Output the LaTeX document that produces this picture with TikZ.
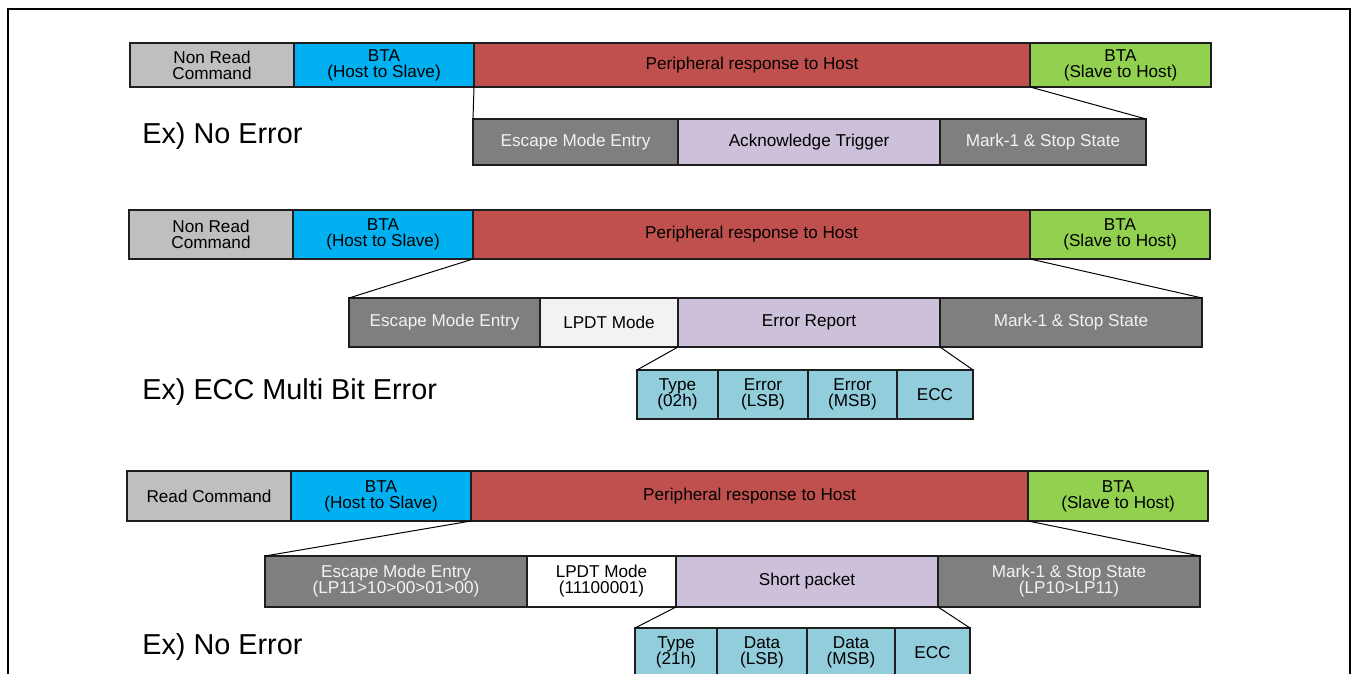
\documentclass[tikz,border=0pt]{standalone}
\usepackage{fontspec}
\setmainfont{Liberation Sans}
\usepackage{tikz}
\usetikzlibrary{positioning}
\definecolor{cmdgray}{HTML}{BFBFBF}
\definecolor{btacyan}{HTML}{00B0F0}
\definecolor{respred}{HTML}{C0504D}
\definecolor{btagreen}{HTML}{92D050}
\definecolor{stategray}{HTML}{7F7F7F}
\definecolor{lavender}{HTML}{CCC0DA}
\definecolor{lpdtgray}{HTML}{F2F2F2}
\definecolor{pktblue}{HTML}{92CDDC}
\definecolor{edge}{HTML}{1E1E1E}
\tikzset{
  seg/.style={draw=edge, line width=0.85pt, anchor=north west, inner sep=0pt,
    outer sep=0pt, align=center, text=black, font=\fontsize{12.2}{11.4}\selectfont},
  cmdseg/.style={seg, fill=cmdgray},
  htsseg/.style={seg, fill=btacyan},
  respseg/.style={seg, fill=respred},
  sthseg/.style={seg, fill=btagreen},
  stateseg/.style={seg, fill=stategray, text=lpdtgray},
  bodyseg/.style={seg, fill=lavender},
  lpdtseg/.style={seg, fill=lpdtgray},
  plainseg/.style={seg, fill=white},
  pktseg/.style={seg, fill=pktblue},
  zoomline/.style={draw=black, line width=0.7pt},
  exlabel/.style={anchor=west, inner sep=0pt, font=\fontsize{20.5}{24}\selectfont}
}

\begin{document}
\begin{tikzpicture}[x=0.025cm,y=-0.025cm]
  \useasboundingbox (0,0) rectangle (1357,674);
  \clip (0,0) rectangle (1357,674);
  \draw[line width=1.4pt] (8,9) rectangle (1350,700);

  % no error, non read command
  \foreach \n/\x/\w/\s/\t in {cmdA/130/164/cmdseg/{Non Read\\Command},
      htsA/294/180/htsseg/{BTA\\(Host to Slave)},
      respA/474/556/respseg/{Peripheral response to Host},
      sthA/1030/181/sthseg/{BTA\\(Slave to Host)}}
    \node[\s, minimum width=\w*0.25mm, minimum height=44*0.25mm] (\n) at (\x,43) {\t};
  \foreach \n/\x/\w/\s/\t in {escA/473/205/stateseg/{Escape Mode Entry},
      ackA/678/262/bodyseg/{Acknowledge Trigger},
      markA/940/206/stateseg/{Mark-1 \& Stop State}}
    \node[\s, minimum width=\w*0.25mm, minimum height=46*0.25mm] (\n) at (\x,119) {\t};
  \draw[zoomline] (respA.south west) -- (escA.north west);
  \draw[zoomline] (respA.south east) -- (markA.north east);
  \node[exlabel] (exA) at (142,136) {Ex) No Error};

  % ecc multi bit error
  \foreach \n/\x/\w/\s/\t in {cmdB/129/164/cmdseg/{Non Read\\Command},
      htsB/293/180/htsseg/{BTA\\(Host to Slave)},
      respB/473/557/respseg/{Peripheral response to Host},
      sthB/1030/180/sthseg/{BTA\\(Slave to Host)}}
    \node[\s, minimum width=\w*0.25mm, minimum height=49*0.25mm] (\n) at (\x,210) {\t};
  \foreach \n/\x/\w/\s/\t in {escB/349/191/stateseg/{Escape Mode Entry},
      lpdtB/540/138/lpdtseg/{LPDT Mode},
      errB/678/262/bodyseg/{Error Report},
      markB/940/262/stateseg/{Mark-1 \& Stop State}}
    \node[\s, minimum width=\w*0.25mm, minimum height=49*0.25mm] (\n) at (\x,298) {\t};
  \foreach \n/\x/\w/\t in {typeB/637/81/{Type\\(02h)},
      lsbB/718/90/{Error\\(LSB)},
      msbB/808/89/{Error\\(MSB)},
      eccB/897/76/{ECC}}
    \node[pktseg, minimum width=\w*0.25mm, minimum height=49*0.25mm] (\n) at (\x,370) {\t};
  \draw[zoomline] (respB.south west) -- (escB.north west);
  \draw[zoomline] (respB.south east) -- (markB.north east);
  \draw[zoomline] (errB.south west) -- (typeB.north west);
  \draw[zoomline] (errB.south east) -- (eccB.north east);
  \node[exlabel] (exB) at (142,392) {Ex) ECC Multi Bit Error};

  % no error, read command
  \foreach \n/\x/\w/\s/\t in {cmdC/127/164/cmdseg/{Read Command},
      htsC/291/180/htsseg/{BTA\\(Host to Slave)},
      respC/471/557/respseg/{Peripheral response to Host},
      sthC/1028/180/sthseg/{BTA\\(Slave to Host)}}
    \node[\s, minimum width=\w*0.25mm, minimum height=50*0.25mm] (\n) at (\x,471) {\t};
  \foreach \n/\x/\w/\s/\t in {escC/265/262/stateseg/{Escape Mode Entry\\(LP11>10>00>01>00)},
      lpdtC/527/149/plainseg/{LPDT Mode\\(11100001)},
      spC/676/262/bodyseg/{Short packet},
      markC/938/262/stateseg/{Mark-1 \& Stop State\\(LP10>LP11)}}
    \node[\s, minimum width=\w*0.25mm, minimum height=51*0.25mm] (\n) at (\x,556) {\t};
  \foreach \n/\x/\w/\t in {typeC/635/82/{Type\\(21h)},
      lsbC/717/90/{Data\\(LSB)},
      msbC/807/88/{Data\\(MSB)},
      eccC/895/75/{ECC}}
    \node[pktseg, minimum width=\w*0.25mm, minimum height=49*0.25mm] (\n) at (\x,628) {\t};
  \draw[zoomline] (respC.south west) -- (escC.north west);
  \draw[zoomline] (respC.south east) -- (markC.north east);
  \draw[zoomline] (spC.south west) -- (typeC.north west);
  \draw[zoomline] (spC.south east) -- (eccC.north east);
  \node[exlabel] (exC) at (142,647) {Ex) No Error};
\end{tikzpicture}
\end{document}
